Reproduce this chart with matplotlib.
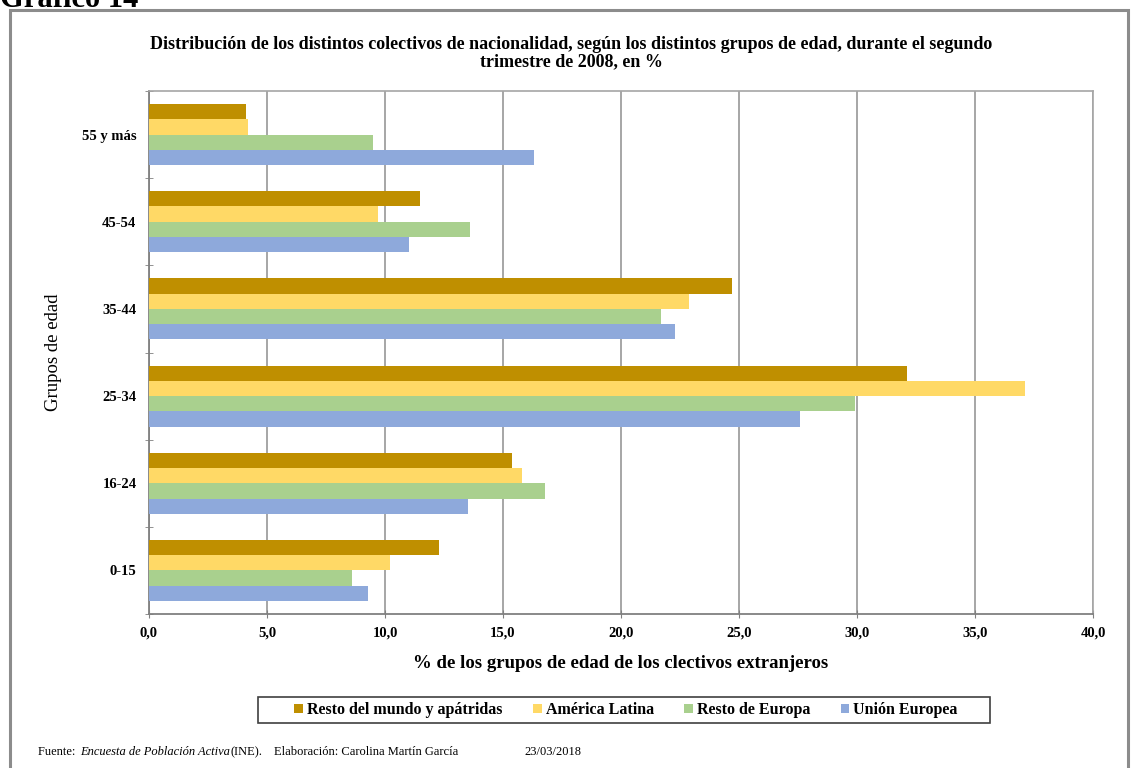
import numpy as np
import matplotlib.pyplot as plt
from matplotlib.patches import Rectangle

# data
grupos = ['0-15', '16-24', '25-34', '35-44', '45-54', '55 y más']
series = ['Resto del mundo y apátridas', 'América Latina', 'Resto de Europa', 'Unión Europea']
resto_mundo = [12.3, 15.4, 32.1, 24.7, 11.5, 4.1]
america_latina = [10.2, 15.8, 37.1, 22.9, 9.7, 4.2]
resto_europa = [8.6, 16.8, 29.9, 21.7, 13.6, 9.5]
union_europea = [9.3, 13.5, 27.6, 22.3, 11.0, 16.3]
colors = ['#BF8F00', '#FFD966', '#A9D08E', '#8EA9DB']

plt.rcParams['font.family'] = ['Liberation Serif', 'DejaVu Serif']

fig = plt.figure(figsize=(11.32, 7.68), dpi=100)
W, H = 1132, 768
ax = fig.add_axes([149 / W, 1 - 614 / H, (1093 - 149) / W, (614 - 91) / H])

# outer frame of the figure
fig.patches.append(Rectangle((10 / W, -0.05), 1118 / W, 1 - 10 / H + 0.05,
                             transform=fig.transFigure, fill=False,
                             edgecolor='#8c8c8c', linewidth=2.2))
fig.text(0.0, 1 - 7 / H, 'Gráfico 14', fontsize=22, fontweight='bold',
         va='baseline', ha='left')

y = np.arange(len(grupos))
h = 0.175
all_vals = [resto_mundo, america_latina, resto_europa, union_europea]
offsets = [1.5 * h, 0.5 * h, -0.5 * h, -1.5 * h]
for vals, off, col, name in zip(all_vals, offsets, colors, series):
    ax.barh(y + off, vals, height=h, color=col, label=name, zorder=3)

ax.set_xlim(0, 40)
ax.set_ylim(-0.5, len(grupos) - 0.5)
xt = np.arange(0, 41, 5)
ax.set_xticks(xt)
ax.set_xticklabels([f'{v:.1f}'.replace('.', ',') for v in xt], fontsize=10.5, fontweight='bold')
ax.set_yticks(y)
ax.set_yticklabels(grupos, fontsize=10.5, fontweight='bold')
ax.set_yticks(np.arange(-0.5, len(grupos), 1), minor=True)
ax.tick_params(axis='y', which='major', length=0, pad=9)
ax.tick_params(axis='y', which='minor', length=6, color='#808080', direction='inout')
ax.tick_params(axis='x', length=6, color='#808080', direction='inout', pad=6)
ax.grid(axis='x', color='#a6a6a6', linewidth=1.4, zorder=0)
for s in ['top', 'right']:
    ax.spines[s].set_color('#a6a6a6')
    ax.spines[s].set_linewidth(1.2)
for s in ['left', 'bottom']:
    ax.spines[s].set_color('#808080')
    ax.spines[s].set_linewidth(1.3)

ax.set_xlabel('% de los grupos de edad de los clectivos extranjeros', fontsize=13.5,
              fontweight='bold', labelpad=11)
ax.set_ylabel('Grupos de edad', fontsize=13.5, labelpad=14)

fig.text(571 / W, 1 - 53 / H,
         'Distribución de los distintos colectivos de nacionalidad, según los distintos grupos de edad, durante el segundo\ntrimestre de 2008, en %',
         ha='center', va='center', fontsize=13, fontweight='bold', linespacing=1.05)

# legend without its own frame, box drawn separately
leg = fig.legend(loc='center', bbox_to_anchor=(626 / W, 1 - 710 / H), ncol=4,
                 prop={'weight': 'bold', 'size': 11.5}, frameon=False,
                 handlelength=0.55, handleheight=0.55, handletextpad=0.25,
                 columnspacing=1.9, borderpad=0.4, borderaxespad=0)
fig.patches.append(Rectangle((258 / W, 1 - 723 / H), (990 - 258) / W, 26 / H,
                             transform=fig.transFigure, fill=False,
                             edgecolor='#404040', linewidth=1.2))

# footer, pieces chained one after another
fy = 1 - 752 / H
fig.canvas.draw()
renderer = fig.canvas.get_renderer()
x0 = 38
for txt, st, gap in [('Fuente: ', 'normal', 0), ('Encuesta de Población Activa', 'italic', 2),
                     ('(INE).', 'normal', 0), ('Elaboración: Carolina Martín García', 'normal', 12),
                     ('23/03/2018', 'normal', 66)]:
    x0 += gap
    t = fig.text(x0 / W, fy, txt, fontsize=9, style=st, ha='left', va='center')
    x0 = t.get_window_extent(renderer).x1

fig.savefig('out.png', dpi=100)
